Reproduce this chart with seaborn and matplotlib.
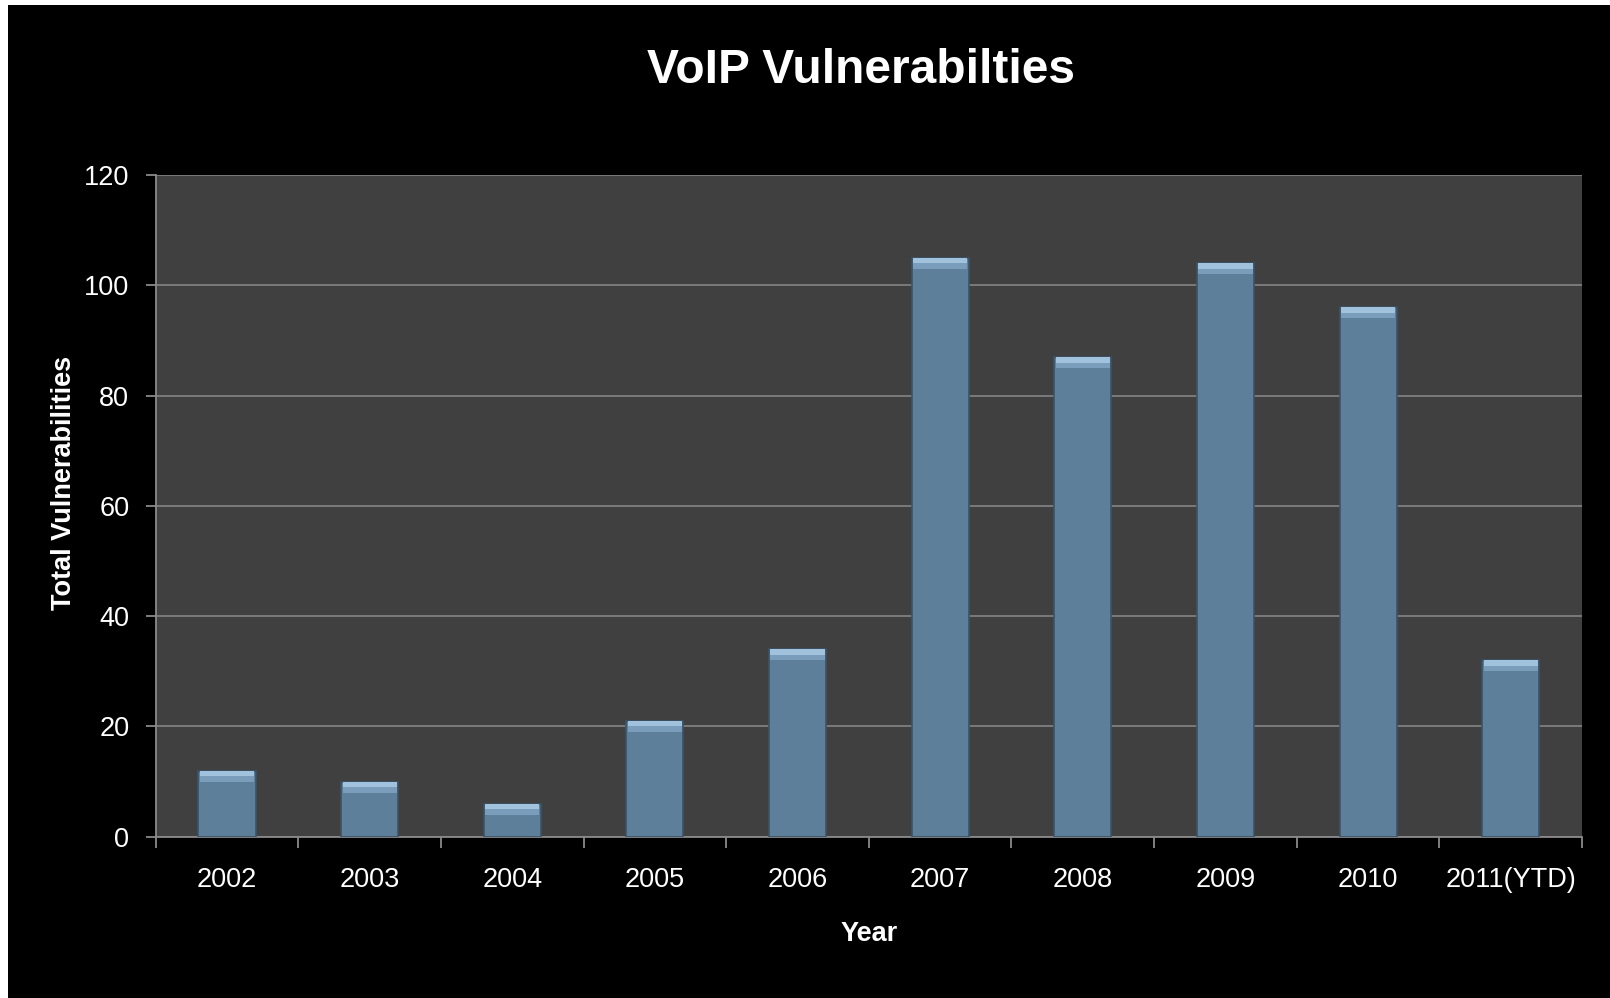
import matplotlib
matplotlib.use("Agg")
import matplotlib.pyplot as plt
import numpy as np
import pandas as pd
import seaborn as sns
from matplotlib.patches import Rectangle
from matplotlib.ticker import FixedLocator

years = ["2002", "2003", "2004", "2005", "2006", "2007", "2008", "2009", "2010", "2011(YTD)"]
vulns = [12, 10, 6, 21, 34, 105, 87, 104, 96, 32]
y_ticks = [0, 20, 40, 60, 80, 100, 120]


def main() -> None:
    df = pd.DataFrame({"year": years, "total": vulns})

    sns.set_theme(style="dark")
    plt.rcParams["font.family"] = ["Liberation Sans", "DejaVu Sans"]

    fig = plt.figure(figsize=(16.1, 9.98), dpi=100, facecolor="white")
    # black slide background, thin white strip on top / left like the screenshot
    fig.add_artist(Rectangle((8 / 1610, 0), 1, 1 - 5 / 998, transform=fig.transFigure,
                             facecolor="black", edgecolor="none", zorder=-5))

    ax = fig.add_axes([0.0967, 0.1616, 0.8859, 0.6630])
    ax.set_facecolor("#404040")

    sns.barplot(data=df, x="year", y="total", color="#5e7f9a", saturation=1, width=0.4,
                edgecolor="#3b5367", linewidth=1.2, ax=ax, zorder=3)

    # bevel highlight on top of each bar
    xs = np.arange(len(years))
    tops = df["total"].to_numpy()
    ax.bar(xs, 2.0, bottom=tops - 2.0, width=0.38, color="#7a9dbb", zorder=4, linewidth=0)
    ax.bar(xs, 1.0, bottom=tops - 1.0, width=0.38, color="#a0c2dc", zorder=5, linewidth=0)

    ax.set_ylim(0, 120)
    ax.set_xlim(-0.5, len(years) - 0.5)
    ax.set_yticks(y_ticks)
    ax.grid(axis="y", color="#8a8a8a", linewidth=1.1, zorder=1)
    ax.grid(axis="x", visible=False)
    ax.set_axisbelow(True)

    for side in ["top", "right"]:
        ax.spines[side].set_visible(False)
    for side in ["left", "bottom"]:
        ax.spines[side].set_visible(True)
        ax.spines[side].set_color("#8a8a8a")
        ax.spines[side].set_linewidth(1.3)

    ax.tick_params(axis="y", colors="#8a8a8a", labelcolor="white", labelsize=19.5,
                   length=7, width=1.3, left=True, pad=12)
    ax.tick_params(axis="x", which="major", length=0, labelcolor="white", labelsize=19.5, pad=21.5)
    ax.xaxis.set_minor_locator(FixedLocator(np.arange(-0.5, len(years), 1.0)))
    ax.tick_params(axis="x", which="minor", bottom=True, length=8, width=1.3, color="#8a8a8a")

    ax.set_xlabel("Year", color="white", fontsize=19.5, fontweight="bold")
    ax.set_ylabel("Total Vulnerabilities", color="white", fontsize=19.5, fontweight="bold")
    ax.xaxis.set_label_coords(0.5, -0.128)
    ax.yaxis.set_label_coords(-0.055, 0.534)

    fig.text(0.535, 1 - 83 / 998, "VoIP Vulnerabilties", color="white", fontsize=34.5,
             fontweight="bold", ha="center", va="baseline")

    fig.savefig("out.png", dpi=100, facecolor=fig.get_facecolor())
    plt.close(fig)


if __name__ == "__main__":
    main()
